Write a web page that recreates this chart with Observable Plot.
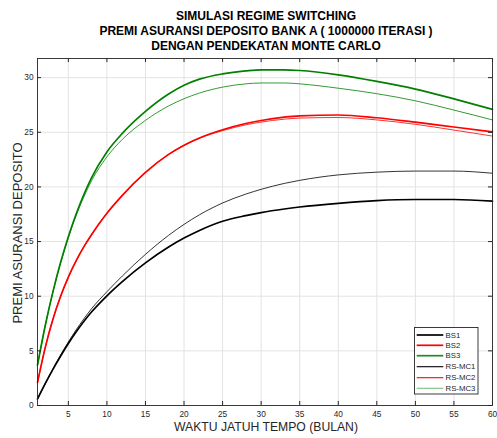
<!DOCTYPE html>
<html>
<head>
<meta charset="utf-8">
<script src="https://cdn.jsdelivr.net/npm/d3@7"></script>
<script src="https://cdn.jsdelivr.net/npm/@observablehq/plot@0.6"></script>
<style>
  body { margin: 0; background: #fff; }
  #wrap { position: relative; width: 497px; height: 438px; font-family: "Liberation Sans", Arial, sans-serif; }
  #legend { position: absolute; left: 414px; top: 327px; }
</style>
</head>
<body>
<div id="wrap"></div>
<script>
const titles = ["SIMULASI REGIME SWITCHING", "PREMI ASURANSI DEPOSITO BANK A ( 1000000 ITERASI )", "DENGAN PENDEKATAN MONTE CARLO"];
const xLabel = "WAKTU JATUH TEMPO (BULAN)";
const yLabel = "PREMI ASURANSI DEPOSITO";
const xTicks = [5, 10, 15, 20, 25, 30, 35, 40, 45, 50, 55, 60];
const yTicks = [0, 5, 10, 15, 20, 25, 30];

const months = [1, 2, 3, 4, 5, 6, 7, 8, 10, 12, 15, 18, 20, 22, 25, 28, 30, 33, 35, 40, 45, 50, 55, 60];
const BS1    = [0.6, 2.0, 3.31, 4.53, 5.67, 6.72, 7.68, 8.55, 10.04, 11.34, 13.05, 14.5, 15.32, 16.02, 16.86, 17.37, 17.65, 17.98, 18.16, 18.5, 18.75, 18.85, 18.85, 18.7];
const BS2    = [2.1, 5.3, 7.9, 10.0, 11.75, 13.23, 14.51, 15.63, 17.59, 19.23, 21.33, 22.98, 23.82, 24.48, 25.23, 25.8, 26.08, 26.38, 26.5, 26.58, 26.33, 25.93, 25.48, 25.03];
const BS3    = [3.7, 7.3, 10.4, 13.1, 15.45, 17.5, 19.28, 20.83, 23.2, 24.9, 26.91, 28.5, 29.3, 29.86, 30.34, 30.61, 30.71, 30.71, 30.65, 30.25, 29.65, 28.95, 28.05, 27.1];
const RSMC1  = [0.6, 2.0, 3.35, 4.62, 5.81, 6.91, 7.92, 8.85, 10.41, 11.85, 13.83, 15.57, 16.57, 17.45, 18.53, 19.34, 19.78, 20.32, 20.6, 21.1, 21.35, 21.45, 21.45, 21.25];
const RSMC2  = [2.1, 5.3, 7.9, 10.0, 11.75, 13.23, 14.51, 15.63, 17.59, 19.23, 21.33, 22.98, 23.8, 24.45, 25.15, 25.68, 25.93, 26.2, 26.3, 26.35, 26.13, 25.73, 25.2, 24.65];
const RSMC3  = [3.7, 7.3, 10.4, 13.05, 15.35, 17.35, 19.07, 20.55, 22.75, 24.35, 26.09, 27.41, 28.07, 28.59, 29.13, 29.43, 29.51, 29.51, 29.43, 29.03, 28.53, 27.88, 27.03, 26.13];

const seriesNames = ["BS1", "BS2", "BS3", "RS-MC1", "RS-MC2", "RS-MC3"];
const seriesValues = [BS1, BS2, BS3, RSMC1, RSMC2, RSMC3];
const seriesColors = ["#000000", "#ff0000", "#008000", "#000000", "#ff0000", "#008000"];
const legendColors = ["#000000", "#ff0000", "#1f8a1f", "#000000", "#ff0000", "#7fbf7f"];
const seriesWidths = [1.7, 1.7, 1.7, 0.8, 0.8, 0.8];

const xDomain = [1, 60];
const yDomain = [0, 31.75];
const tickLenY = 0.37, tickLenX = 0.52;

const rows = [];
seriesNames.forEach((name, i) => months.forEach((m, j) => rows.push({series: name, t: m, v: seriesValues[i][j]})));

const lineMarks = seriesNames.map((name, i) =>
  Plot.line(rows.filter(r => r.series === name), {
    x: "t", y: "v", stroke: seriesColors[i], strokeWidth: seriesWidths[i], curve: "monotone-x"
  })
);

const ink = "#262626";
const chart = Plot.plot({
  width: 497, height: 438,
  marginLeft: 37, marginRight: 5, marginTop: 58, marginBottom: 33,
  style: {fontFamily: "'Liberation Sans', Arial, sans-serif", background: "#fff"},
  x: {domain: xDomain},
  y: {domain: yDomain},
  marks: [
    Plot.ruleX(xTicks, {stroke: "#e3e3e3", strokeWidth: 1}),
    Plot.ruleY(yTicks.filter(d => d > 0), {stroke: "#e3e3e3", strokeWidth: 1}),
    ...lineMarks,
    Plot.ruleX(xTicks, {x: d => d, y1: yDomain[0], y2: yDomain[0] + tickLenY, stroke: ink}),
    Plot.ruleX(xTicks, {x: d => d, y1: yDomain[1] - tickLenY, y2: yDomain[1], stroke: ink}),
    Plot.ruleY(yTicks, {y: d => d, x1: xDomain[0], x2: xDomain[0] + tickLenX, stroke: ink}),
    Plot.ruleY(yTicks, {y: d => d, x1: xDomain[1] - tickLenX, x2: xDomain[1], stroke: ink}),
    Plot.frame({stroke: ink, strokeWidth: 0.9}),
    Plot.axisX({ticks: xTicks, tickSize: 0, tickPadding: 6, fontSize: 8.3, color: ink, label: null}),
    Plot.axisY({ticks: yTicks, tickSize: 0, tickPadding: 4, fontSize: 8.3, color: ink, label: null}),
    Plot.text([xLabel], {frameAnchor: "bottom", dx: 1, dy: 25, fontSize: 12.2, fill: ink, textAnchor: "middle"}),
    Plot.text([yLabel], {frameAnchor: "left", dx: -20, dy: 1, rotate: -90, fontSize: 13, fill: ink, textAnchor: "middle"}),
    Plot.text([titles[0]], {frameAnchor: "top", dx: 1, dy: -47, fontSize: 12, fontWeight: "bold", fill: "#000"}),
    Plot.text([titles[1]], {frameAnchor: "top", dx: 1, dy: -32, fontSize: 12, fontWeight: "bold", fill: "#000"}),
    Plot.text([titles[2]], {frameAnchor: "top", dx: 1, dy: -17.5, fontSize: 12, fontWeight: "bold", fill: "#000"})
  ]
});
document.getElementById("wrap").appendChild(chart);

// legend
const lg = d3.select("#wrap").append("svg").attr("id", "legend")
  .attr("width", 65).attr("height", 68);
lg.append("rect").attr("x", 0.5).attr("y", 0.5).attr("width", 63.5).attr("height", 66.5)
  .attr("fill", "#fff").attr("stroke", ink).attr("stroke-width", 0.9);
const rowY = [8, 18.3, 28.7, 39.7, 50.7, 61.3];
seriesNames.forEach((name, i) => {
  lg.append("line").attr("x1", 2.7).attr("x2", 29.3).attr("y1", rowY[i]).attr("y2", rowY[i])
    .attr("stroke", legendColors[i]).attr("stroke-width", i < 3 ? 1.7 : 1.1);
  lg.append("text").attr("x", 31.5).attr("y", rowY[i]).attr("dy", "0.35em")
    .attr("font-size", 7.8).attr("fill", ink).attr("font-family", "'Liberation Sans', Arial, sans-serif").text(name);
});
</script>
</body>
</html>
